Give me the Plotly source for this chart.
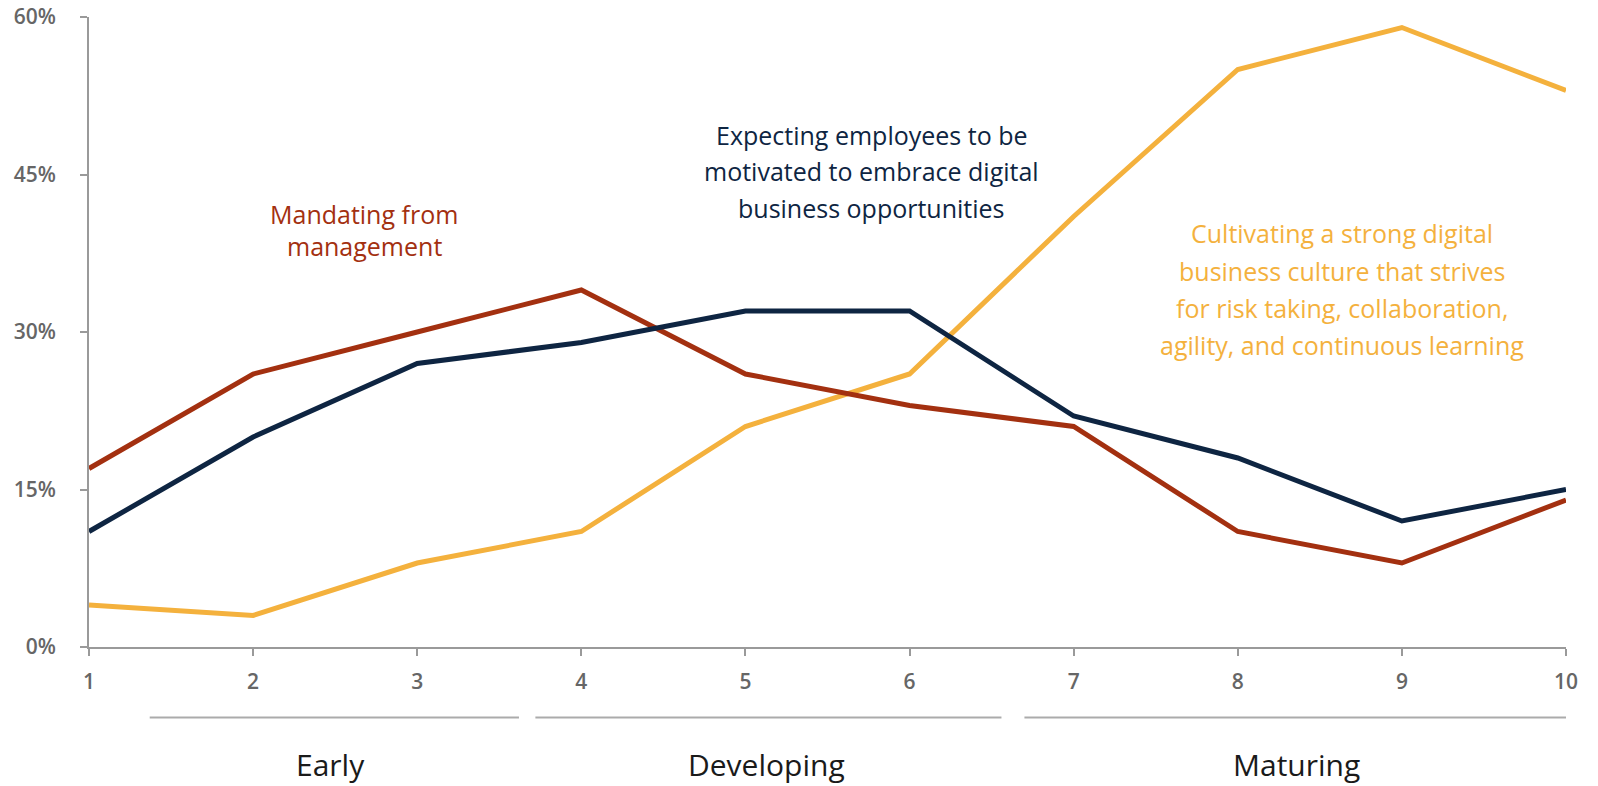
import plotly.graph_objects as go

# Digital maturity score (1-10) and share of respondents per approach
maturity = [1, 2, 3, 4, 5, 6, 7, 8, 9, 10]
mandating = [17, 26, 30, 34, 26, 23, 21, 11, 8, 14]
expecting = [11, 20, 27, 29, 32, 32, 22, 18, 12, 15]
cultivating = [4, 3, 8, 11, 21, 26, 41, 55, 59, 53]

y_ticks = [0, 15, 30, 45, 60]
y_tick_text = ["0%", "15%", "30%", "45%", "60%"]

stage_names = ["Early", "Developing", "Maturing"]
stage_start = [1.37, 3.72, 6.70]
stage_end = [3.62, 6.56, 10.0]
stage_center = [2.47, 5.13, 8.36]

# Caption text, one entry per line
mandating_caption = ["Mandating from", "management"]
expecting_caption = ["Expecting employees to be", "motivated to embrace digital",
                     "business opportunities"]
cultivating_caption = ["Cultivating a strong digital", "business culture that strives",
                       "for risk taking, collaboration,", "agility, and continuous learning"]

RED = "#A33010"
NAVY = "#0E2542"
GOLD = "#F4B13D"
AXIS = "#9A9A9A"
FONT = "Open Sans"

fig = go.Figure()
for vals, col in [(cultivating, GOLD), (mandating, RED), (expecting, NAVY)]:
    fig.add_trace(go.Scatter(x=maturity, y=vals, mode="lines",
                             line=dict(color=col, width=5),
                             showlegend=False, hoverinfo="skip"))


def add_caption(lines, x, y_top, step, color):
    for i, txt in enumerate(lines):
        fig.add_annotation(x=x, y=y_top - i * step, text=txt, showarrow=False,
                           xanchor="center", yanchor="middle",
                           font=dict(family=FONT, size=25, color=color))


add_caption(mandating_caption, 2.676, 41.2, 3.0, RED)
add_caption(expecting_caption, 5.77, 48.8, 3.5, NAVY)
add_caption(cultivating_caption, 8.636, 39.4, 3.55, GOLD)

# Maturity stage brackets below the axis
for name, s, e, c in zip(stage_names, stage_start, stage_end, stage_center):
    fig.add_shape(type="line", xref="x", yref="paper", x0=s, x1=e,
                  y0=-0.112, y1=-0.112, line=dict(color="#ABABAB", width=2))
    fig.add_annotation(x=c, y=-0.186, xref="x", yref="paper", text=name,
                       showarrow=False, xanchor="center", yanchor="middle",
                       font=dict(family=FONT, size=30, color="#1A1A1A"))

fig.update_layout(
    width=1598, height=786,
    margin=dict(l=89, r=32, t=17, b=139),
    plot_bgcolor="white", paper_bgcolor="white",
    xaxis=dict(range=[1, 10], tickvals=maturity, ticktext=[str(m) for m in maturity],
               showgrid=False, zeroline=False, showline=True, linecolor=AXIS, linewidth=2,
               ticks="outside", ticklen=7, tickcolor=AXIS, tickwidth=2,
               ticklabelstandoff=8, automargin=False,
               tickfont=dict(family=FONT, size=21, color="#666666", weight=600)),
    yaxis=dict(range=[0, 60], tickvals=y_ticks, ticktext=y_tick_text,
               showgrid=False, zeroline=False, showline=True, linecolor=AXIS, linewidth=2,
               ticks="outside", ticklen=7, tickcolor=AXIS, tickwidth=2,
               ticklabelstandoff=20, automargin=False,
               tickfont=dict(family=FONT, size=21, color="#666666", weight=600)),
)

fig.write_html("out.html")
